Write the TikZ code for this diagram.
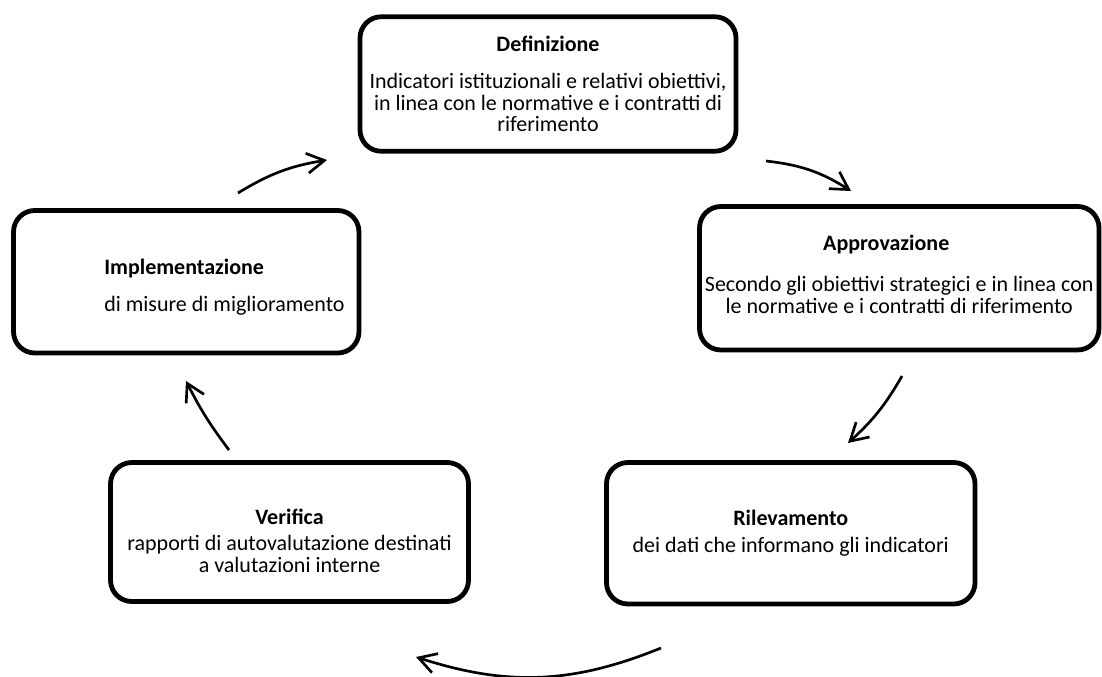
\documentclass[tikz,border=0pt]{standalone}
\usepackage{fontspec}
\setmainfont{Carlito}
\usepackage{tikz}
\usetikzlibrary{arrows.meta}
\usetikzlibrary{positioning}

\begin{document}
\begin{tikzpicture}[x=0.75pt, y=0.75pt,
    stage text/.style={font=\fontsize{16.5}{16}\selectfont, inner sep=0pt},
    stage/.style={draw, line width=3.6pt, rounded corners=16pt, align=center, stage text},
    cycle arrow/.style={line width=2pt, -{Straight Barb[length=13pt,width=15pt]}}]

    % Define the size of the picture
    \useasboundingbox (0,0) rectangle (1102,-677);

    % Draw the five stages of the cycle
    \node[stage, minimum width=282pt, minimum height=100.9pt] (def) at (548,-84)
        {\textbf{Definizione}\\[12pt] Indicatori istituzionali e relativi obiettivi,\\ in linea con le normative e i contratti di\\ riferimento};
    \node[stage, minimum width=299.6pt, minimum height=107.6pt, text depth=6pt] (app) at (899.25,-278.25)
        {\textbf{Approvazione}\hspace*{19.5pt}\\[14.75pt] Secondo gli obiettivi strategici e in linea con\\ le normative e i contratti di riferimento};
    \node[stage, minimum width=276.4pt, minimum height=106.1pt] (ril) at (790.75,-533.25)
        {\textbf{Rilevamento}\\[4.25pt] dei dati che informano gli indicatori};
    \node[stage, minimum width=268.5pt, minimum height=104.25pt] (ver) at (289.5,-532) {};
    \node[stage text, align=center] (vertext) at (289.5,-541)
        {\textbf{Verifica}\\[3.5pt] rapporti di autovalutazione destinati\\ a valutazioni interne};
    \node[stage, minimum width=259.1pt, minimum height=106.9pt] (imp) at (186.25,-281.75) {};
    \node[stage text, align=left, anchor=west] (imptext) at (104,-287)
        {\textbf{Implementazione}\\[11.75pt] di misure di miglioramento};

    % Define the ends of the arrows
    \coordinate (a1s) at (238,-193);
    \coordinate (a1e) at (327,-160);
    \coordinate (a2s) at (766,-161);
    \coordinate (a2e) at (851,-191);
    \coordinate (a3s) at (902,-376);
    \coordinate (a3e) at (848,-443);
    \coordinate (a4s) at (661,-648);
    \coordinate (a4e) at (416,-657);
    \coordinate (a5s) at (229,-450);
    \coordinate (a5e) at (186,-381);

    % Draw the arrows between the stages
    \draw[cycle arrow] (a1s) to[bend left=11] (a1e);
    \draw[cycle arrow] (a2s) to[bend left=13] (a2e);
    \draw[cycle arrow] (a3s) to[bend left=9] (a3e);
    \draw[cycle arrow] (a4s) to[bend left=20] (a4e);
    \draw[cycle arrow] (a5s) to[bend left=5] (a5e);
\end{tikzpicture}
\end{document}
